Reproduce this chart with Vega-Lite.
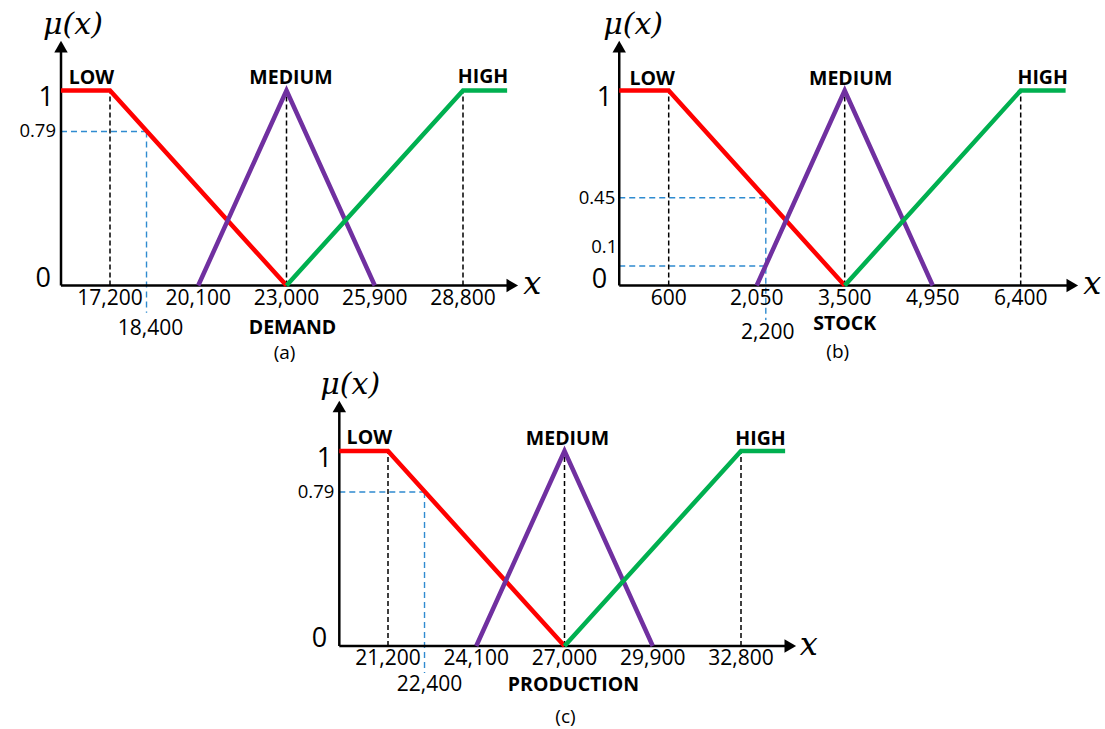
{
"$schema":"https://vega.github.io/schema/vega-lite/v6.json",
"width":1105,"height":729,"autosize":{"type":"none"},"padding":0,"background":"white",
"config":{"view":{"stroke":null}},
"resolve":{"scale":{"x":"independent","y":"independent"}},
"layer":[
{"layer":[
 {"data":{"values":[{"x":15590,"x2":18400,"y":0.79,"y2":0.79},{"x":18400,"x2":18400,"y":0.79,"y2":-0.14}]},
  "mark":{"type":"rule","color":"#2F8BD0","strokeWidth":1.4,"strokeDash":[6,4]},
  "encoding":{"x":{"field":"x","type":"quantitative","scale":{"domain":[17200,28800],"range":[110,463],"zero":false,"nice":false},"axis":null},"x2":{"field":"x2"},"y":{"field":"y","type":"quantitative","scale":{"domain":[0,1],"range":[285.5,90.5],"zero":false,"nice":false},"axis":null},"y2":{"field":"y2"}}},
 {"data":{"values":[{"x":17200},{"x":23000},{"x":28800}]},
  "mark":{"type":"rule","color":"black","strokeWidth":1.5,"strokeDash":[5,3]},
  "encoding":{"x":{"field":"x","type":"quantitative","scale":{"domain":[17200,28800],"range":[110,463],"zero":false,"nice":false},"axis":null},"y":{"datum":0,"type":"quantitative","scale":{"domain":[0,1],"range":[285.5,90.5],"zero":false,"nice":false},"axis":null},"y2":{"datum":1}}},
 {"data":{"values":[{}]},"mark":{"type":"rule","color":"black","strokeWidth":2.5},
  "encoding":{"x":{"datum":15590,"type":"quantitative","scale":{"domain":[17200,28800],"range":[110,463],"zero":false,"nice":false},"axis":null},"x2":{"datum":30420},"y":{"datum":0,"type":"quantitative","scale":{"domain":[0,1],"range":[285.5,90.5],"zero":false,"nice":false},"axis":null}}},
 {"data":{"values":[{}]},"mark":{"type":"rule","color":"black","strokeWidth":2.5},
  "encoding":{"x":{"datum":15590,"type":"quantitative","scale":{"domain":[17200,28800],"range":[110,463],"zero":false,"nice":false},"axis":null},"y":{"datum":0,"type":"quantitative","scale":{"domain":[0,1],"range":[285.5,90.5],"zero":false,"nice":false},"axis":null},"y2":{"datum":1.225}}},
 {"data":{"values":[{"mf":"LOW","x":15590,"mu":1},{"mf":"LOW","x":17200,"mu":1},{"mf":"LOW","x":23000,"mu":0},{"mf":"MEDIUM","x":20100,"mu":0},{"mf":"MEDIUM","x":23000,"mu":1},{"mf":"MEDIUM","x":25900,"mu":0},{"mf":"HIGH","x":23000,"mu":0},{"mf":"HIGH","x":28800,"mu":1},{"mf":"HIGH","x":30250,"mu":1}]},
  "mark":{"type":"line","strokeWidth":4.5},
  "encoding":{"x":{"field":"x","type":"quantitative","scale":{"domain":[17200,28800],"range":[110,463],"zero":false,"nice":false},"axis":null},"y":{"field":"mu","type":"quantitative","scale":{"domain":[0,1],"range":[285.5,90.5],"zero":false,"nice":false},"axis":null},"color":{"field":"mf","type":"nominal","scale":{"domain":["LOW","MEDIUM","HIGH"],"range":["#FF0000","#7030A0","#00B050"]},"legend":null}}},
 {"data":{"values":[{}]},"mark":{"type":"point","shape":"triangle-up","filled":true,"size":180,"color":"black","opacity":1},
  "encoding":{"x":{"datum":15590,"type":"quantitative","scale":{"domain":[17200,28800],"range":[110,463],"zero":false,"nice":false},"axis":null},"y":{"datum":1.225,"type":"quantitative","scale":{"domain":[0,1],"range":[285.5,90.5],"zero":false,"nice":false},"axis":null}}},
 {"data":{"values":[{}]},"mark":{"type":"point","shape":"triangle-right","filled":true,"size":180,"color":"black","opacity":1},
  "encoding":{"x":{"datum":30420,"type":"quantitative","scale":{"domain":[17200,28800],"range":[110,463],"zero":false,"nice":false},"axis":null},"y":{"datum":0,"type":"quantitative","scale":{"domain":[0,1],"range":[285.5,90.5],"zero":false,"nice":false},"axis":null}}},
 {"data":{"values":[{"x":17200,"label":"17,200"},{"x":20100,"label":"20,100"},{"x":23000,"label":"23,000"},{"x":25900,"label":"25,900"},{"x":28800,"label":"28,800"}]},
  "mark":{"type":"text","font":"Open Sans","fontSize":21,"align":"center","baseline":"alphabetic","dy":19},
  "encoding":{"x":{"field":"x","type":"quantitative","scale":{"domain":[17200,28800],"range":[110,463],"zero":false,"nice":false},"axis":null},"y":{"datum":0,"type":"quantitative","scale":{"domain":[0,1],"range":[285.5,90.5],"zero":false,"nice":false},"axis":null},"text":{"field":"label"}}},
 {"data":{"values":[{"x":18400,"label":"18,400"}]},
  "mark":{"type":"text","font":"Open Sans","fontSize":21,"align":"center","baseline":"alphabetic","dx":4,"dy":49},
  "encoding":{"x":{"field":"x","type":"quantitative","scale":{"domain":[17200,28800],"range":[110,463],"zero":false,"nice":false},"axis":null},"y":{"datum":0,"type":"quantitative","scale":{"domain":[0,1],"range":[285.5,90.5],"zero":false,"nice":false},"axis":null},"text":{"field":"label"}}},
 {"data":{"values":[{"y":1,"label":"1"}]},
  "mark":{"type":"text","font":"Open Sans","fontSize":27,"align":"right","baseline":"alphabetic","dx":-7,"dy":15},
  "encoding":{"x":{"datum":15590,"type":"quantitative","scale":{"domain":[17200,28800],"range":[110,463],"zero":false,"nice":false},"axis":null},"y":{"field":"y","type":"quantitative","scale":{"domain":[0,1],"range":[285.5,90.5],"zero":false,"nice":false},"axis":null},"text":{"field":"label"}}},
 {"data":{"values":[{"y":0,"label":"0"}]},
  "mark":{"type":"text","font":"Open Sans","fontSize":27,"align":"right","baseline":"alphabetic","dx":-10,"dy":1},
  "encoding":{"x":{"datum":15590,"type":"quantitative","scale":{"domain":[17200,28800],"range":[110,463],"zero":false,"nice":false},"axis":null},"y":{"field":"y","type":"quantitative","scale":{"domain":[0,1],"range":[285.5,90.5],"zero":false,"nice":false},"axis":null},"text":{"field":"label"}}},
 {"data":{"values":[{"y":0.79,"label":"0.79"}]},
  "mark":{"type":"text","font":"Open Sans","fontSize":18.5,"align":"right","baseline":"middle","dx":-5},
  "encoding":{"x":{"datum":15590,"type":"quantitative","scale":{"domain":[17200,28800],"range":[110,463],"zero":false,"nice":false},"axis":null},"y":{"field":"y","type":"quantitative","scale":{"domain":[0,1],"range":[285.5,90.5],"zero":false,"nice":false},"axis":null},"text":{"field":"label"}}},
 {"data":{"values":[{}]},"mark":{"type":"text","text":"LOW","font":"Open Sans","fontWeight":"bold","fontSize":19.5,"align":"center","baseline":"alphabetic","dx":30.5,"dy":-7},
  "encoding":{"x":{"datum":15590,"type":"quantitative","scale":{"domain":[17200,28800],"range":[110,463],"zero":false,"nice":false},"axis":null},"y":{"datum":1,"type":"quantitative","scale":{"domain":[0,1],"range":[285.5,90.5],"zero":false,"nice":false},"axis":null}}},
 {"data":{"values":[{}]},"mark":{"type":"text","text":"MEDIUM","font":"Open Sans","fontWeight":"bold","fontSize":19.5,"align":"center","baseline":"alphabetic","dx":4.5,"dy":-7},
  "encoding":{"x":{"datum":23000,"type":"quantitative","scale":{"domain":[17200,28800],"range":[110,463],"zero":false,"nice":false},"axis":null},"y":{"datum":1,"type":"quantitative","scale":{"domain":[0,1],"range":[285.5,90.5],"zero":false,"nice":false},"axis":null}}},
 {"data":{"values":[{}]},"mark":{"type":"text","text":"HIGH","font":"Open Sans","fontWeight":"bold","fontSize":19.5,"align":"center","baseline":"alphabetic","dx":20,"dy":-7.5},
  "encoding":{"x":{"datum":28800,"type":"quantitative","scale":{"domain":[17200,28800],"range":[110,463],"zero":false,"nice":false},"axis":null},"y":{"datum":1,"type":"quantitative","scale":{"domain":[0,1],"range":[285.5,90.5],"zero":false,"nice":false},"axis":null}}},
 {"data":{"values":[{}]},"mark":{"type":"text","text":"DEMAND","font":"Open Sans","fontWeight":"bold","fontSize":19.5,"align":"center","baseline":"alphabetic","dx":6,"dy":48},
  "encoding":{"x":{"datum":23000,"type":"quantitative","scale":{"domain":[17200,28800],"range":[110,463],"zero":false,"nice":false},"axis":null},"y":{"datum":0,"type":"quantitative","scale":{"domain":[0,1],"range":[285.5,90.5],"zero":false,"nice":false},"axis":null}}},
 {"data":{"values":[{}]},"mark":{"type":"text","text":"(a)","font":"Open Sans","fontSize":19,"align":"center","baseline":"alphabetic","dx":-2,"dy":73},
  "encoding":{"x":{"datum":23000,"type":"quantitative","scale":{"domain":[17200,28800],"range":[110,463],"zero":false,"nice":false},"axis":null},"y":{"datum":0,"type":"quantitative","scale":{"domain":[0,1],"range":[285.5,90.5],"zero":false,"nice":false},"axis":null}}},
 {"data":{"values":[{}]},"mark":{"type":"text","text":"μ(x)","font":"DejaVu Serif","fontStyle":"italic","fontSize":30,"align":"left","baseline":"middle","dx":-18,"dy":-22},
  "encoding":{"x":{"datum":15590,"type":"quantitative","scale":{"domain":[17200,28800],"range":[110,463],"zero":false,"nice":false},"axis":null},"y":{"datum":1.225,"type":"quantitative","scale":{"domain":[0,1],"range":[285.5,90.5],"zero":false,"nice":false},"axis":null}}},
 {"data":{"values":[{}]},"mark":{"type":"text","text":"x","font":"DejaVu Serif","fontStyle":"italic","fontSize":32,"align":"center","baseline":"alphabetic","dx":20,"dy":8},
  "encoding":{"x":{"datum":30420,"type":"quantitative","scale":{"domain":[17200,28800],"range":[110,463],"zero":false,"nice":false},"axis":null},"y":{"datum":0,"type":"quantitative","scale":{"domain":[0,1],"range":[285.5,90.5],"zero":false,"nice":false},"axis":null}}}
]},
{"layer":[
 {"data":{"values":[{"x":-215,"x2":2200,"y":0.45,"y2":0.45},{"x":-215,"x2":2200,"y":0.1,"y2":0.1},{"x":2200,"x2":2200,"y":0.45,"y2":-0.177}]},
  "mark":{"type":"rule","color":"#2F8BD0","strokeWidth":1.4,"strokeDash":[6,4]},
  "encoding":{"x":{"field":"x","type":"quantitative","scale":{"domain":[600,6400],"range":[668.7,1020.7],"zero":false,"nice":false},"axis":null},"x2":{"field":"x2"},"y":{"field":"y","type":"quantitative","scale":{"domain":[0,1],"range":[285.5,90.5],"zero":false,"nice":false},"axis":null},"y2":{"field":"y2"}}},
 {"data":{"values":[{"x":600},{"x":3500},{"x":6400}]},
  "mark":{"type":"rule","color":"black","strokeWidth":1.5,"strokeDash":[5,3]},
  "encoding":{"x":{"field":"x","type":"quantitative","scale":{"domain":[600,6400],"range":[668.7,1020.7],"zero":false,"nice":false},"axis":null},"y":{"datum":0,"type":"quantitative","scale":{"domain":[0,1],"range":[285.5,90.5],"zero":false,"nice":false},"axis":null},"y2":{"datum":1}}},
 {"data":{"values":[{}]},"mark":{"type":"rule","color":"black","strokeWidth":2.5},
  "encoding":{"x":{"datum":-215,"type":"quantitative","scale":{"domain":[600,6400],"range":[668.7,1020.7],"zero":false,"nice":false},"axis":null},"x2":{"datum":7250},"y":{"datum":0,"type":"quantitative","scale":{"domain":[0,1],"range":[285.5,90.5],"zero":false,"nice":false},"axis":null}}},
 {"data":{"values":[{}]},"mark":{"type":"rule","color":"black","strokeWidth":2.5},
  "encoding":{"x":{"datum":-215,"type":"quantitative","scale":{"domain":[600,6400],"range":[668.7,1020.7],"zero":false,"nice":false},"axis":null},"y":{"datum":0,"type":"quantitative","scale":{"domain":[0,1],"range":[285.5,90.5],"zero":false,"nice":false},"axis":null},"y2":{"datum":1.225}}},
 {"data":{"values":[{"mf":"LOW","x":-215,"mu":1},{"mf":"LOW","x":600,"mu":1},{"mf":"LOW","x":3500,"mu":0},{"mf":"MEDIUM","x":2050,"mu":0},{"mf":"MEDIUM","x":3500,"mu":1},{"mf":"MEDIUM","x":4950,"mu":0},{"mf":"HIGH","x":3500,"mu":0},{"mf":"HIGH","x":6400,"mu":1},{"mf":"HIGH","x":7140,"mu":1}]},
  "mark":{"type":"line","strokeWidth":4.5},
  "encoding":{"x":{"field":"x","type":"quantitative","scale":{"domain":[600,6400],"range":[668.7,1020.7],"zero":false,"nice":false},"axis":null},"y":{"field":"mu","type":"quantitative","scale":{"domain":[0,1],"range":[285.5,90.5],"zero":false,"nice":false},"axis":null},"color":{"field":"mf","type":"nominal","scale":{"domain":["LOW","MEDIUM","HIGH"],"range":["#FF0000","#7030A0","#00B050"]},"legend":null}}},
 {"data":{"values":[{}]},"mark":{"type":"point","shape":"triangle-up","filled":true,"size":180,"color":"black","opacity":1},
  "encoding":{"x":{"datum":-215,"type":"quantitative","scale":{"domain":[600,6400],"range":[668.7,1020.7],"zero":false,"nice":false},"axis":null},"y":{"datum":1.225,"type":"quantitative","scale":{"domain":[0,1],"range":[285.5,90.5],"zero":false,"nice":false},"axis":null}}},
 {"data":{"values":[{}]},"mark":{"type":"point","shape":"triangle-right","filled":true,"size":180,"color":"black","opacity":1},
  "encoding":{"x":{"datum":7250,"type":"quantitative","scale":{"domain":[600,6400],"range":[668.7,1020.7],"zero":false,"nice":false},"axis":null},"y":{"datum":0,"type":"quantitative","scale":{"domain":[0,1],"range":[285.5,90.5],"zero":false,"nice":false},"axis":null}}},
 {"data":{"values":[{"x":600,"label":"600"},{"x":2050,"label":"2,050"},{"x":3500,"label":"3,500"},{"x":4950,"label":"4,950"},{"x":6400,"label":"6,400"}]},
  "mark":{"type":"text","font":"Open Sans","fontSize":21,"align":"center","baseline":"alphabetic","dy":19},
  "encoding":{"x":{"field":"x","type":"quantitative","scale":{"domain":[600,6400],"range":[668.7,1020.7],"zero":false,"nice":false},"axis":null},"y":{"datum":0,"type":"quantitative","scale":{"domain":[0,1],"range":[285.5,90.5],"zero":false,"nice":false},"axis":null},"text":{"field":"label"}}},
 {"data":{"values":[{"x":2200,"label":"2,200"}]},
  "mark":{"type":"text","font":"Open Sans","fontSize":21,"align":"center","baseline":"alphabetic","dx":2,"dy":53},
  "encoding":{"x":{"field":"x","type":"quantitative","scale":{"domain":[600,6400],"range":[668.7,1020.7],"zero":false,"nice":false},"axis":null},"y":{"datum":0,"type":"quantitative","scale":{"domain":[0,1],"range":[285.5,90.5],"zero":false,"nice":false},"axis":null},"text":{"field":"label"}}},
 {"data":{"values":[{"y":1,"label":"1"}]},
  "mark":{"type":"text","font":"Open Sans","fontSize":27,"align":"right","baseline":"alphabetic","dx":-7,"dy":15},
  "encoding":{"x":{"datum":-215,"type":"quantitative","scale":{"domain":[600,6400],"range":[668.7,1020.7],"zero":false,"nice":false},"axis":null},"y":{"field":"y","type":"quantitative","scale":{"domain":[0,1],"range":[285.5,90.5],"zero":false,"nice":false},"axis":null},"text":{"field":"label"}}},
 {"data":{"values":[{"y":0,"label":"0"}]},
  "mark":{"type":"text","font":"Open Sans","fontSize":27,"align":"right","baseline":"alphabetic","dx":-12,"dy":2},
  "encoding":{"x":{"datum":-215,"type":"quantitative","scale":{"domain":[600,6400],"range":[668.7,1020.7],"zero":false,"nice":false},"axis":null},"y":{"field":"y","type":"quantitative","scale":{"domain":[0,1],"range":[285.5,90.5],"zero":false,"nice":false},"axis":null},"text":{"field":"label"}}},
 {"data":{"values":[{"y":0.45,"label":"0.45"}]},
  "mark":{"type":"text","font":"Open Sans","fontSize":18.5,"align":"right","baseline":"middle","dx":-4},
  "encoding":{"x":{"datum":-215,"type":"quantitative","scale":{"domain":[600,6400],"range":[668.7,1020.7],"zero":false,"nice":false},"axis":null},"y":{"field":"y","type":"quantitative","scale":{"domain":[0,1],"range":[285.5,90.5],"zero":false,"nice":false},"axis":null},"text":{"field":"label"}}},
 {"data":{"values":[{"y":0.1,"label":"0.1"}]},
  "mark":{"type":"text","font":"Open Sans","fontSize":18.5,"align":"right","baseline":"middle","dx":-2,"dy":-19},
  "encoding":{"x":{"datum":-215,"type":"quantitative","scale":{"domain":[600,6400],"range":[668.7,1020.7],"zero":false,"nice":false},"axis":null},"y":{"field":"y","type":"quantitative","scale":{"domain":[0,1],"range":[285.5,90.5],"zero":false,"nice":false},"axis":null},"text":{"field":"label"}}},
 {"data":{"values":[{}]},"mark":{"type":"text","text":"LOW","font":"Open Sans","fontWeight":"bold","fontSize":19.5,"align":"center","baseline":"alphabetic","dx":33,"dy":-6},
  "encoding":{"x":{"datum":-215,"type":"quantitative","scale":{"domain":[600,6400],"range":[668.7,1020.7],"zero":false,"nice":false},"axis":null},"y":{"datum":1,"type":"quantitative","scale":{"domain":[0,1],"range":[285.5,90.5],"zero":false,"nice":false},"axis":null}}},
 {"data":{"values":[{}]},"mark":{"type":"text","text":"MEDIUM","font":"Open Sans","fontWeight":"bold","fontSize":19.5,"align":"center","baseline":"alphabetic","dx":6,"dy":-6},
  "encoding":{"x":{"datum":3500,"type":"quantitative","scale":{"domain":[600,6400],"range":[668.7,1020.7],"zero":false,"nice":false},"axis":null},"y":{"datum":1,"type":"quantitative","scale":{"domain":[0,1],"range":[285.5,90.5],"zero":false,"nice":false},"axis":null}}},
 {"data":{"values":[{}]},"mark":{"type":"text","text":"HIGH","font":"Open Sans","fontWeight":"bold","fontSize":19.5,"align":"center","baseline":"alphabetic","dx":22,"dy":-7},
  "encoding":{"x":{"datum":6400,"type":"quantitative","scale":{"domain":[600,6400],"range":[668.7,1020.7],"zero":false,"nice":false},"axis":null},"y":{"datum":1,"type":"quantitative","scale":{"domain":[0,1],"range":[285.5,90.5],"zero":false,"nice":false},"axis":null}}},
 {"data":{"values":[{}]},"mark":{"type":"text","text":"STOCK","font":"Open Sans","fontWeight":"bold","fontSize":19.5,"align":"center","baseline":"alphabetic","dx":0,"dy":44.5},
  "encoding":{"x":{"datum":3500,"type":"quantitative","scale":{"domain":[600,6400],"range":[668.7,1020.7],"zero":false,"nice":false},"axis":null},"y":{"datum":0,"type":"quantitative","scale":{"domain":[0,1],"range":[285.5,90.5],"zero":false,"nice":false},"axis":null}}},
 {"data":{"values":[{}]},"mark":{"type":"text","text":"(b)","font":"Open Sans","fontSize":19,"align":"center","baseline":"alphabetic","dx":-7,"dy":72},
  "encoding":{"x":{"datum":3500,"type":"quantitative","scale":{"domain":[600,6400],"range":[668.7,1020.7],"zero":false,"nice":false},"axis":null},"y":{"datum":0,"type":"quantitative","scale":{"domain":[0,1],"range":[285.5,90.5],"zero":false,"nice":false},"axis":null}}},
 {"data":{"values":[{}]},"mark":{"type":"text","text":"μ(x)","font":"DejaVu Serif","fontStyle":"italic","fontSize":30,"align":"left","baseline":"middle","dx":-16,"dy":-22},
  "encoding":{"x":{"datum":-215,"type":"quantitative","scale":{"domain":[600,6400],"range":[668.7,1020.7],"zero":false,"nice":false},"axis":null},"y":{"datum":1.225,"type":"quantitative","scale":{"domain":[0,1],"range":[285.5,90.5],"zero":false,"nice":false},"axis":null}}},
 {"data":{"values":[{}]},"mark":{"type":"text","text":"x","font":"DejaVu Serif","fontStyle":"italic","fontSize":32,"align":"center","baseline":"alphabetic","dx":20,"dy":8},
  "encoding":{"x":{"datum":7250,"type":"quantitative","scale":{"domain":[600,6400],"range":[668.7,1020.7],"zero":false,"nice":false},"axis":null},"y":{"datum":0,"type":"quantitative","scale":{"domain":[0,1],"range":[285.5,90.5],"zero":false,"nice":false},"axis":null}}}
]},
{"layer":[
 {"data":{"values":[{"x":19600,"x2":22400,"y":0.79,"y2":0.79},{"x":22400,"x2":22400,"y":0.79,"y2":-0.138}]},
  "mark":{"type":"rule","color":"#2F8BD0","strokeWidth":1.4,"strokeDash":[6,4]},
  "encoding":{"x":{"field":"x","type":"quantitative","scale":{"domain":[21200,32800],"range":[388,741],"zero":false,"nice":false},"axis":null},"x2":{"field":"x2"},"y":{"field":"y","type":"quantitative","scale":{"domain":[0,1],"range":[646,451],"zero":false,"nice":false},"axis":null},"y2":{"field":"y2"}}},
 {"data":{"values":[{"x":21200},{"x":27000},{"x":32800}]},
  "mark":{"type":"rule","color":"black","strokeWidth":1.5,"strokeDash":[5,3]},
  "encoding":{"x":{"field":"x","type":"quantitative","scale":{"domain":[21200,32800],"range":[388,741],"zero":false,"nice":false},"axis":null},"y":{"datum":0,"type":"quantitative","scale":{"domain":[0,1],"range":[646,451],"zero":false,"nice":false},"axis":null},"y2":{"datum":1}}},
 {"data":{"values":[{}]},"mark":{"type":"rule","color":"black","strokeWidth":2.5},
  "encoding":{"x":{"datum":19600,"type":"quantitative","scale":{"domain":[21200,32800],"range":[388,741],"zero":false,"nice":false},"axis":null},"x2":{"datum":34420},"y":{"datum":0,"type":"quantitative","scale":{"domain":[0,1],"range":[646,451],"zero":false,"nice":false},"axis":null}}},
 {"data":{"values":[{}]},"mark":{"type":"rule","color":"black","strokeWidth":2.5},
  "encoding":{"x":{"datum":19600,"type":"quantitative","scale":{"domain":[21200,32800],"range":[388,741],"zero":false,"nice":false},"axis":null},"y":{"datum":0,"type":"quantitative","scale":{"domain":[0,1],"range":[646,451],"zero":false,"nice":false},"axis":null},"y2":{"datum":1.228}}},
 {"data":{"values":[{"mf":"LOW","x":19600,"mu":1},{"mf":"LOW","x":21200,"mu":1},{"mf":"LOW","x":27000,"mu":0},{"mf":"MEDIUM","x":24100,"mu":0},{"mf":"MEDIUM","x":27000,"mu":1},{"mf":"MEDIUM","x":29900,"mu":0},{"mf":"HIGH","x":27000,"mu":0},{"mf":"HIGH","x":32800,"mu":1},{"mf":"HIGH","x":34250,"mu":1}]},
  "mark":{"type":"line","strokeWidth":4.5},
  "encoding":{"x":{"field":"x","type":"quantitative","scale":{"domain":[21200,32800],"range":[388,741],"zero":false,"nice":false},"axis":null},"y":{"field":"mu","type":"quantitative","scale":{"domain":[0,1],"range":[646,451],"zero":false,"nice":false},"axis":null},"color":{"field":"mf","type":"nominal","scale":{"domain":["LOW","MEDIUM","HIGH"],"range":["#FF0000","#7030A0","#00B050"]},"legend":null}}},
 {"data":{"values":[{}]},"mark":{"type":"point","shape":"triangle-up","filled":true,"size":180,"color":"black","opacity":1},
  "encoding":{"x":{"datum":19600,"type":"quantitative","scale":{"domain":[21200,32800],"range":[388,741],"zero":false,"nice":false},"axis":null},"y":{"datum":1.228,"type":"quantitative","scale":{"domain":[0,1],"range":[646,451],"zero":false,"nice":false},"axis":null}}},
 {"data":{"values":[{}]},"mark":{"type":"point","shape":"triangle-right","filled":true,"size":180,"color":"black","opacity":1},
  "encoding":{"x":{"datum":34420,"type":"quantitative","scale":{"domain":[21200,32800],"range":[388,741],"zero":false,"nice":false},"axis":null},"y":{"datum":0,"type":"quantitative","scale":{"domain":[0,1],"range":[646,451],"zero":false,"nice":false},"axis":null}}},
 {"data":{"values":[{"x":21200,"label":"21,200"},{"x":24100,"label":"24,100"},{"x":27000,"label":"27,000"},{"x":29900,"label":"29,900"},{"x":32800,"label":"32,800"}]},
  "mark":{"type":"text","font":"Open Sans","fontSize":21,"align":"center","baseline":"alphabetic","dy":18.5},
  "encoding":{"x":{"field":"x","type":"quantitative","scale":{"domain":[21200,32800],"range":[388,741],"zero":false,"nice":false},"axis":null},"y":{"datum":0,"type":"quantitative","scale":{"domain":[0,1],"range":[646,451],"zero":false,"nice":false},"axis":null},"text":{"field":"label"}}},
 {"data":{"values":[{"x":22400,"label":"22,400"}]},
  "mark":{"type":"text","font":"Open Sans","fontSize":21,"align":"center","baseline":"alphabetic","dx":5,"dy":45},
  "encoding":{"x":{"field":"x","type":"quantitative","scale":{"domain":[21200,32800],"range":[388,741],"zero":false,"nice":false},"axis":null},"y":{"datum":0,"type":"quantitative","scale":{"domain":[0,1],"range":[646,451],"zero":false,"nice":false},"axis":null},"text":{"field":"label"}}},
 {"data":{"values":[{"y":1,"label":"1"}]},
  "mark":{"type":"text","font":"Open Sans","fontSize":27,"align":"right","baseline":"alphabetic","dx":-7,"dy":16},
  "encoding":{"x":{"datum":19600,"type":"quantitative","scale":{"domain":[21200,32800],"range":[388,741],"zero":false,"nice":false},"axis":null},"y":{"field":"y","type":"quantitative","scale":{"domain":[0,1],"range":[646,451],"zero":false,"nice":false},"axis":null},"text":{"field":"label"}}},
 {"data":{"values":[{"y":0,"label":"0"}]},
  "mark":{"type":"text","font":"Open Sans","fontSize":27,"align":"right","baseline":"alphabetic","dx":-12,"dy":1},
  "encoding":{"x":{"datum":19600,"type":"quantitative","scale":{"domain":[21200,32800],"range":[388,741],"zero":false,"nice":false},"axis":null},"y":{"field":"y","type":"quantitative","scale":{"domain":[0,1],"range":[646,451],"zero":false,"nice":false},"axis":null},"text":{"field":"label"}}},
 {"data":{"values":[{"y":0.79,"label":"0.79"}]},
  "mark":{"type":"text","font":"Open Sans","fontSize":18.5,"align":"right","baseline":"middle","dx":-5},
  "encoding":{"x":{"datum":19600,"type":"quantitative","scale":{"domain":[21200,32800],"range":[388,741],"zero":false,"nice":false},"axis":null},"y":{"field":"y","type":"quantitative","scale":{"domain":[0,1],"range":[646,451],"zero":false,"nice":false},"axis":null},"text":{"field":"label"}}},
 {"data":{"values":[{}]},"mark":{"type":"text","text":"LOW","font":"Open Sans","fontWeight":"bold","fontSize":19.5,"align":"center","baseline":"alphabetic","dx":30,"dy":-7},
  "encoding":{"x":{"datum":19600,"type":"quantitative","scale":{"domain":[21200,32800],"range":[388,741],"zero":false,"nice":false},"axis":null},"y":{"datum":1,"type":"quantitative","scale":{"domain":[0,1],"range":[646,451],"zero":false,"nice":false},"axis":null}}},
 {"data":{"values":[{}]},"mark":{"type":"text","text":"MEDIUM","font":"Open Sans","fontWeight":"bold","fontSize":19.5,"align":"center","baseline":"alphabetic","dx":3,"dy":-6},
  "encoding":{"x":{"datum":27000,"type":"quantitative","scale":{"domain":[21200,32800],"range":[388,741],"zero":false,"nice":false},"axis":null},"y":{"datum":1,"type":"quantitative","scale":{"domain":[0,1],"range":[646,451],"zero":false,"nice":false},"axis":null}}},
 {"data":{"values":[{}]},"mark":{"type":"text","text":"HIGH","font":"Open Sans","fontWeight":"bold","fontSize":19.5,"align":"center","baseline":"alphabetic","dx":19.5,"dy":-6},
  "encoding":{"x":{"datum":32800,"type":"quantitative","scale":{"domain":[21200,32800],"range":[388,741],"zero":false,"nice":false},"axis":null},"y":{"datum":1,"type":"quantitative","scale":{"domain":[0,1],"range":[646,451],"zero":false,"nice":false},"axis":null}}},
 {"data":{"values":[{}]},"mark":{"type":"text","text":"PRODUCTION","font":"Open Sans","fontWeight":"bold","fontSize":19.5,"align":"center","baseline":"alphabetic","dx":9,"dy":45},
  "encoding":{"x":{"datum":27000,"type":"quantitative","scale":{"domain":[21200,32800],"range":[388,741],"zero":false,"nice":false},"axis":null},"y":{"datum":0,"type":"quantitative","scale":{"domain":[0,1],"range":[646,451],"zero":false,"nice":false},"axis":null}}},
 {"data":{"values":[{}]},"mark":{"type":"text","text":"(c)","font":"Open Sans","fontSize":19,"align":"center","baseline":"alphabetic","dx":1,"dy":77},
  "encoding":{"x":{"datum":27000,"type":"quantitative","scale":{"domain":[21200,32800],"range":[388,741],"zero":false,"nice":false},"axis":null},"y":{"datum":0,"type":"quantitative","scale":{"domain":[0,1],"range":[646,451],"zero":false,"nice":false},"axis":null}}},
 {"data":{"values":[{}]},"mark":{"type":"text","text":"μ(x)","font":"DejaVu Serif","fontStyle":"italic","fontSize":30,"align":"left","baseline":"middle","dx":-19,"dy":-22},
  "encoding":{"x":{"datum":19600,"type":"quantitative","scale":{"domain":[21200,32800],"range":[388,741],"zero":false,"nice":false},"axis":null},"y":{"datum":1.228,"type":"quantitative","scale":{"domain":[0,1],"range":[646,451],"zero":false,"nice":false},"axis":null}}},
 {"data":{"values":[{}]},"mark":{"type":"text","text":"x","font":"DejaVu Serif","fontStyle":"italic","fontSize":32,"align":"center","baseline":"alphabetic","dx":18.5,"dy":9},
  "encoding":{"x":{"datum":34420,"type":"quantitative","scale":{"domain":[21200,32800],"range":[388,741],"zero":false,"nice":false},"axis":null},"y":{"datum":0,"type":"quantitative","scale":{"domain":[0,1],"range":[646,451],"zero":false,"nice":false},"axis":null}}}
]}
]
}
